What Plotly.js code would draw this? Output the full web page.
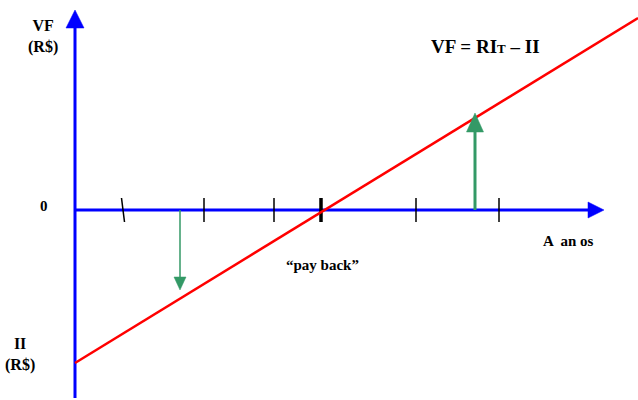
<!DOCTYPE html>
<html><head><meta charset="utf-8">
<script src="https://cdn.plot.ly/plotly-3.0.1.min.js"></script>
<style>html,body{margin:0;padding:0;background:#fff}#c{width:638px;height:400px}</style>
</head><body><div id="c"></div>
<script>
// Schematic payback chart: x = time (anos), y = VF (R$), arbitrary units
const II = -153;             // initial investment (negative VF at t=0)
const lineX = [0, 563];      // red line extent
const lineY = [-153, 192];   // VF = RI_T - II
const tickX = [48, 129, 199, 246, 341, 424];   // period marks on time axis
const paybackX = 246;        // payback point
const downArrowX = 105, downArrowTip = -80;    // negative VF example
const upArrowX = 400, upArrowTip = 97;         // positive VF example
const xAxisEnd = 529, yAxisEnd = 200, yAxisStart = -188;

const blue = '#0000ff', red = '#ff0000', green = '#339966';
const font = {family: 'Liberation Serif, Times New Roman, serif', color: '#000'};

function tri(tipX, tipY, dir, len, half) {
  if (dir === 'up') return {x:[tipX-half, tipX, tipX+half, tipX-half], y:[tipY-len, tipY, tipY-len, tipY-len]};
  if (dir === 'down') return {x:[tipX-half, tipX, tipX+half, tipX-half], y:[tipY+len, tipY, tipY+len, tipY+len]};
  return {x:[tipX-len, tipX, tipX-len, tipX-len], y:[tipY-half, tipY, tipY+half, tipY-half]};
}
function filled(t, color) {
  return {x:t.x, y:t.y, mode:'lines', fill:'toself', fillcolor:color, line:{color:color, width:0.5}, hoverinfo:'skip'};
}
const traces = [];
// axes
traces.push({x:[0,0], y:[yAxisStart, yAxisEnd-16], mode:'lines', line:{color:blue, width:3}, hoverinfo:'skip'});
traces.push(filled(tri(0, yAxisEnd, 'up', 18, 9), blue));
traces.push({x:[0, xAxisEnd-14], y:[0,0], mode:'lines', line:{color:blue, width:3}, hoverinfo:'skip'});
traces.push(filled(tri(xAxisEnd, 0, 'right', 16, 8), blue));
// tick marks
tickX.forEach((t,i) => {
  const slant = i === 0 ? 1.5 : 0;
  traces.push({x:[t-slant, t+slant], y:[12,-12], mode:'lines', line:{color:'#000', width: t===paybackX ? 3.5 : 1.5}, hoverinfo:'skip'});
});
// red VF line
traces.push({x:lineX, y:lineY, mode:'lines', line:{color:red, width:2.5}, hoverinfo:'skip'});
// green arrows
traces.push({x:[downArrowX, downArrowX], y:[0, downArrowTip+10], mode:'lines', line:{color:green, width:1.5}, hoverinfo:'skip'});
traces.push(filled(tri(downArrowX, downArrowTip, 'down', 13, 6), green));
traces.push({x:[upArrowX, upArrowX], y:[0, upArrowTip-15], mode:'lines', line:{color:green, width:3}, hoverinfo:'skip'});
traces.push(filled(tri(upArrowX, upArrowTip, 'up', 19, 8.5), green));
traces.forEach(t => t.showlegend = false);

const ann = (x, y, text, size) => ({x, y, text, showarrow:false, font:Object.assign({size}, font), xanchor:'center', yanchor:'middle'});
const layout = {
  width:638, height:400, margin:{l:0,r:0,t:0,b:0},
  paper_bgcolor:'#fff', plot_bgcolor:'#fff', showlegend:false,
  xaxis:{range:[-75,563], visible:false, fixedrange:true},
  yaxis:{range:[-190,210], visible:false, fixedrange:true},
  annotations:[
    ann(-32, 174, '<b>VF</b><br><b>(R$)</b>', 16),
    ann(-31, 4, '<b>0</b>', 15),
    ann(-55, -144, '<b>II</b><br><b>(R$)</b>', 16),
    ann(410, 164, '<b>VF = RI<span style="font-size:13px">T</span> – II</b>', 19),
    ann(493, -31, '<b>A  an os</b>', 15),
    ann(247, -55, '<b>“pay back”</b>', 15)
  ]
};
Plotly.newPlot('c', traces, layout, {staticPlot:true, displayModeBar:false});
</script></body></html>
